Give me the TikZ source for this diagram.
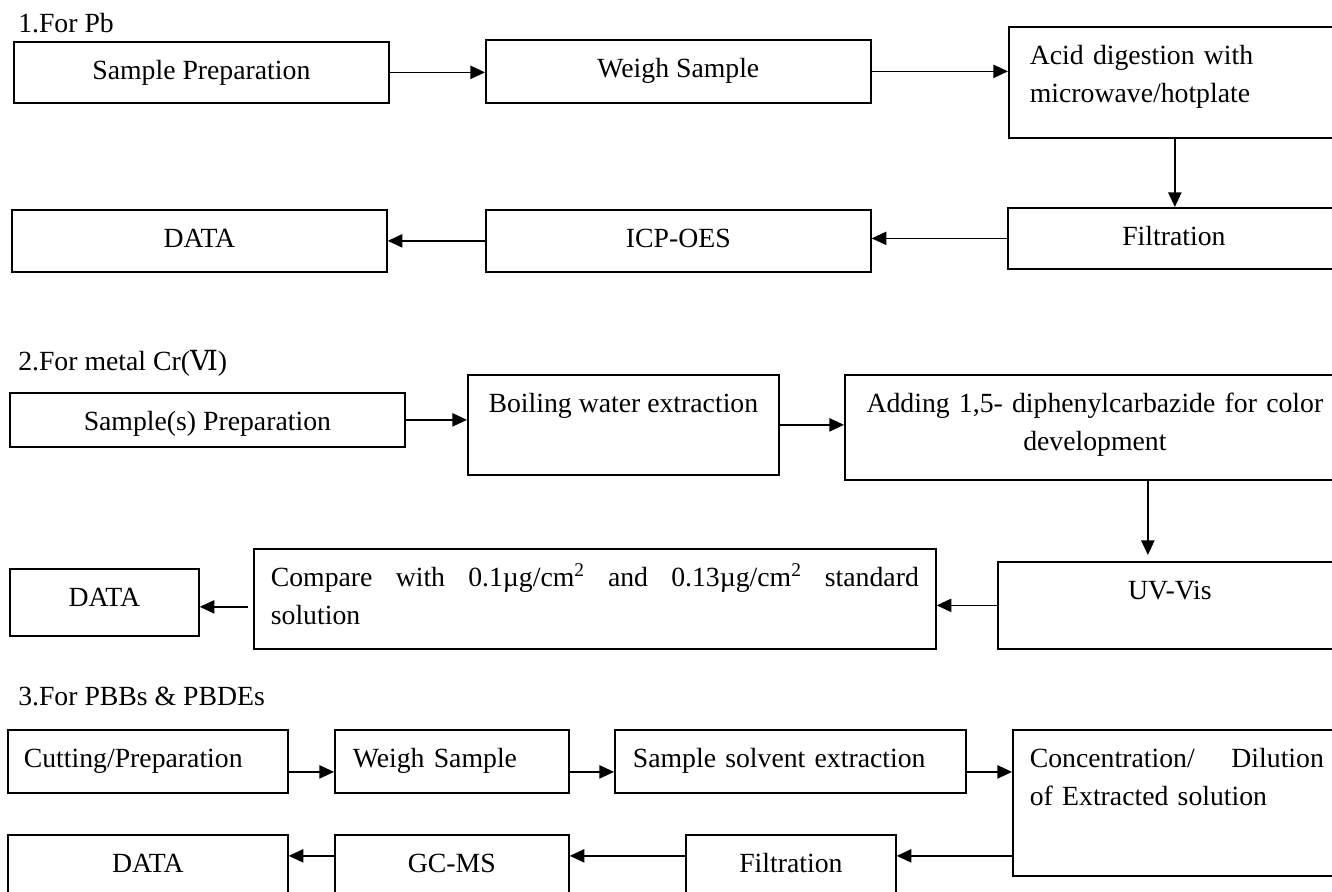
\documentclass[tikz,border=0pt]{standalone}
\usepackage{fontspec}
\setmainfont{Liberation Serif}
\newfontfamily\romanfont{DejaVu Serif}
\usetikzlibrary{arrows.meta}

\begin{document}
\begin{tikzpicture}[x=0.75pt, y=-0.75pt,
      every node/.style={font=\fontsize{20.8}{28.5}\selectfont},
      bx/.style={draw, line width=1.3pt, anchor=north west, inner ysep=0pt,
                 text height=28.5pt},
      hd/.style={anchor=base west, inner sep=0pt},
      arr/.style={line width=1pt, -{Triangle[length=11pt, width=10pt]}}]
    \useasboundingbox (0,0) rectangle (1332,892);
    % 1. Pb
    \node[hd] (h1) at (18,33) {1.For Pb};
    \node[bx, minimum width=281.25pt, text depth=17.25pt] (sp1) at (13,41) {Sample Preparation};
    \node[bx, minimum width=288.75pt, text depth=18.75pt] (ws1) at (485,39) {Weigh Sample};
    \node[bx, inner xsep=15.75pt, text width=217.5pt, align=left, text depth=54.75pt] (acid) at (1008,26)
      {Acid digestion with\\microwave/hotplate};
    \node[bx, minimum width=249pt, text depth=17.25pt] (filt1) at (1007,207) {Filtration};
    \node[bx, minimum width=288.75pt, text depth=18pt] (icp) at (485,209) {ICP-OES};
    \node[bx, minimum width=281.25pt, text depth=18pt] (data1) at (11,209) {DATA};
    \draw[arr] (sp1.east) -- (sp1.east -| ws1.west);
    \draw[arr] (ws1.east) -- (ws1.east -| acid.west);
    \draw[arr] (acid.south) -- (acid.south |- filt1.north);
    \draw[arr] (filt1.west) -- (filt1.west -| icp.east);
    \draw[arr] (icp.west) -- (icp.west -| data1.east);
    % 2. Cr(VI)
    \node[hd] (h2) at (18,370) {2.For metal Cr({\romanfont Ⅵ})};
    \node[bx, minimum width=296.25pt, text depth=12pt] (ss) at (9,392) {Sample(s) Preparation};
    \node[bx, minimum width=233.25pt, text depth=46.5pt] (boil) at (467,374) {Boiling water extraction};
    \node[bx, inner xsep=11.25pt, text width=352.5pt, align=center, text depth=50.25pt] (add) at (844,374)
      {Adding 1,5- diphenylcarbazide for color\\development};
    \node[bx, minimum width=258pt, text depth=36.75pt] (uv) at (997,561) {UV-Vis};
    \node[bx, inner xsep=12.75pt, text width=486pt, align=left, text depth=46.5pt] (cmp) at (253,548)
      {Compare\hfill with\hfill 0.1µg/cm\textsuperscript{2}\hfill and\hfill
       0.13µg/cm\textsuperscript{2}\hfill standard\\solution};
    \node[bx, minimum width=141.75pt, text depth=21.75pt] (data2) at (9,568) {DATA};
    \draw[arr] (ss.east) -- (ss.east -| boil.west);
    \draw[arr] (boil.east) -- (boil.east -| add.west);
    \draw[arr, shorten >=4.5pt] ([xshift=39.75pt]add.south) -- ([xshift=39.75pt]add.south |- uv.north);
    \draw[arr] (uv.west) -- (uv.west -| cmp.east);
    \draw[arr] ([xshift=-3.75pt, yshift=-6pt]cmp.west) -- ([yshift=-6pt]cmp.west -| data2.east);
    % 3. PBBs & PBDEs
    \node[hd] (h3) at (18,705) {3.For PBBs \& PBDEs};
    \node[bx, inner xsep=12pt, text width=186pt, align=left, text depth=18.75pt] (cut) at (7,729) {Cutting/Preparation};
    \node[bx, inner xsep=13.5pt, text width=148.5pt, align=left, text depth=18.75pt] (ws3) at (334,729) {Weigh Sample};
    \node[bx, inner xsep=13.5pt, text width=236.25pt, align=left, text depth=18.75pt] (sse) at (614,729) {Sample solvent extraction};
    \node[bx, inner xsep=12.75pt, text width=220.5pt, align=left, text depth=81pt] (conc) at (1012,729)
      {Concentration/\hfill Dilution\\of Extracted solution};
    \node[bx, minimum width=210pt, text depth=24pt] (data3) at (7,834) {DATA};
    \node[bx, minimum width=175.5pt, text depth=24pt] (gc) at (334,834) {GC-MS};
    \node[bx, minimum width=157.5pt, text depth=24pt] (filt3) at (685,834) {Filtration};
    \draw[arr] ([yshift=-7.9pt]cut.east) -- ([yshift=-7.9pt]ws3.west);
    \draw[arr] ([yshift=-7.9pt]ws3.east) -- ([yshift=-7.9pt]sse.west);
    \draw[arr] ([yshift=-7.9pt]sse.east) -- ([yshift=-7.9pt]sse.east -| conc.west);
    \draw[arr] ([yshift=-39.75pt]conc.west) -- ([yshift=-39.75pt]conc.west -| filt3.east);
    \draw[arr] ([yshift=10.5pt]filt3.west) -- ([yshift=10.5pt]gc.east);
    \draw[arr] ([yshift=10.5pt]gc.west) -- ([yshift=10.5pt]data3.east);
  \end{tikzpicture}
\end{document}
